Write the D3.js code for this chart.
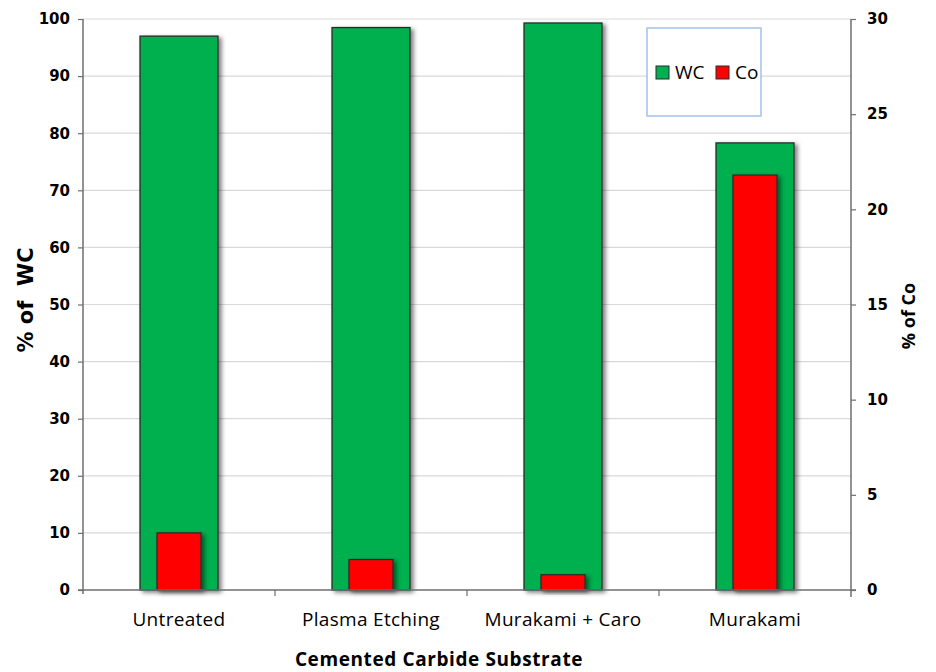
<!DOCTYPE html>
<html>
<head>
<meta charset="utf-8">
<script src="https://cdn.jsdelivr.net/npm/d3@7"></script>
<style>
  html, body { margin: 0; padding: 0; background: #fff; }
  svg { display: block; }
</style>
</head>
<body>
<svg id="chart" width="936" height="672"></svg>
<script>
// Substrate composition: WC on the left axis, Co on the right axis
const categories = ["Untreated", "Plasma Etching", "Murakami + Caro", "Murakami"];
const wcValues = [97.0, 98.5, 99.3, 78.3];
const coValues = [3.0, 1.6, 0.8, 21.8];
const leftTicks = [0, 10, 20, 30, 40, 50, 60, 70, 80, 90, 100];
const rightTicks = [0, 5, 10, 15, 20, 25, 30];

const svg = d3.select("#chart");
const plotLeft = 83, plotRight = 851, plotTop = 19, plotBottom = 590;

const x = d3.scaleBand().domain(categories).range([plotLeft, plotRight]);
const yL = d3.scaleLinear().domain([0, 100]).range([plotBottom, plotTop]);
const yR = d3.scaleLinear().domain([0, 30]).range([plotBottom, plotTop]);

const defs = svg.append("defs");
const f = defs.append("filter").attr("id", "shadow")
  .attr("x", "-20%").attr("y", "-20%").attr("width", "150%").attr("height", "150%");
f.append("feDropShadow").attr("dx", 3).attr("dy", 2).attr("stdDeviation", 2)
  .attr("flood-color", "#000").attr("flood-opacity", 0.5);

// gridlines
svg.append("g").selectAll("line").data(leftTicks.slice(1)).join("line")
  .attr("x1", plotLeft).attr("x2", plotRight)
  .attr("y1", d => yL(d)).attr("y2", d => yL(d))
  .attr("stroke", "#d9d9d9").attr("stroke-width", 1.2);

const tickFont = "'DejaVu Sans', Verdana, sans-serif";

// left axis
const gL = svg.append("g").attr("transform", `translate(${plotLeft},0)`)
  .call(d3.axisLeft(yL).tickValues(leftTicks).tickSize(5).tickPadding(8));
gL.select(".domain").attr("stroke", "#6e6e6e").attr("stroke-width", 1.5).attr("d", `M0,${plotBottom + 4}V${plotTop}`);
gL.selectAll(".tick line").attr("stroke", "#6e6e6e").attr("stroke-width", 1.2);
gL.selectAll(".tick text").attr("font-family", tickFont).attr("font-weight", "bold")
  .attr("font-size", 15).attr("fill", "#000");

// right axis
const gR = svg.append("g").attr("transform", `translate(${plotRight},0)`)
  .call(d3.axisRight(yR).tickValues(rightTicks).tickSize(5).tickPadding(11));
gR.select(".domain").attr("stroke", "#6e6e6e").attr("stroke-width", 1.5).attr("d", `M0,${plotBottom + 7}V${plotTop}`);
gR.selectAll(".tick line").attr("stroke", "#6e6e6e").attr("stroke-width", 1.2);
gR.selectAll(".tick text").attr("font-family", tickFont).attr("font-weight", "bold")
  .attr("font-size", 15).attr("fill", "#000");

// bars
const wcW = 78, coW = 44;
const bars = svg.append("g");
bars.selectAll("rect.wc").data(categories).join("rect").attr("class", "wc")
  .attr("x", d => x(d) + x.bandwidth() / 2 - wcW / 2)
  .attr("width", wcW)
  .attr("y", (d, i) => yL(wcValues[i]))
  .attr("height", (d, i) => yL(0) - yL(wcValues[i]))
  .attr("fill", "#00b050").attr("stroke", "#2b2b2b").attr("stroke-width", 1.3)
  .attr("filter", "url(#shadow)");
bars.selectAll("rect.co").data(categories).join("rect").attr("class", "co")
  .attr("x", d => x(d) + x.bandwidth() / 2 - coW / 2)
  .attr("width", coW)
  .attr("y", (d, i) => yR(coValues[i]))
  .attr("height", (d, i) => yR(0) - yR(coValues[i]))
  .attr("fill", "#ff0000").attr("stroke", "#2b2b2b").attr("stroke-width", 1.3)
  .attr("filter", "url(#shadow)");

// bottom axis
const gB = svg.append("g").attr("transform", `translate(0,${plotBottom})`);
gB.append("line").attr("x1", plotLeft - 5).attr("x2", plotRight + 5).attr("y1", 0).attr("y2", 0)
  .attr("stroke", "#6e6e6e").attr("stroke-width", 1.5);
gB.selectAll("line.sep").data(categories.slice(1)).join("line").attr("class", "sep")
  .attr("x1", d => x(d)).attr("x2", d => x(d)).attr("y1", 0).attr("y2", 6)
  .attr("stroke", "#6e6e6e").attr("stroke-width", 1.2);
gB.selectAll("text").data(categories).join("text")
  .attr("x", d => x(d) + x.bandwidth() / 2).attr("y", 36)
  .attr("text-anchor", "middle")
  .attr("font-family", "'Open Sans', sans-serif").attr("font-size", 19)
  .attr("letter-spacing", 0.3).attr("fill", "#000")
  .text(d => d);

// axis titles
svg.append("text").attr("x", 439).attr("y", 666).attr("text-anchor", "middle")
  .attr("font-family", "'Open Sans', sans-serif").attr("font-weight", "bold").attr("font-size", 19)
  .attr("letter-spacing", 0.6)
  .text("Cemented Carbide Substrate");
svg.append("text").attr("transform", "translate(33,300) rotate(-90)").attr("text-anchor", "middle")
  .attr("font-family", tickFont).attr("font-weight", "bold").attr("font-size", 21)
  .attr("xml:space", "preserve").text("% of  WC");
svg.append("text").attr("transform", "translate(915,316) rotate(-90)").attr("text-anchor", "middle")
  .attr("font-family", "'Open Sans', sans-serif").attr("font-weight", "bold").attr("font-size", 18)
  .text("% of Co");

// legend
const lg = svg.append("g");
lg.append("rect").attr("x", 647).attr("y", 28).attr("width", 114).attr("height", 88)
  .attr("fill", "#fff").attr("stroke", "#8db3e2").attr("stroke-width", 1.2);
const legendItems = [
  { label: "WC", color: "#00b050", x: 656 },
  { label: "Co", color: "#ff0000", x: 716 }
];
legendItems.forEach(it => {
  lg.append("rect").attr("x", it.x).attr("y", 66).attr("width", 13).attr("height", 13)
    .attr("fill", it.color).attr("stroke", "#2b2b2b").attr("stroke-width", 1);
  lg.append("text").attr("x", it.x + 19).attr("y", 79)
    .attr("font-family", "'Open Sans', sans-serif").attr("font-size", 19).attr("fill", "#000")
    .text(it.label);
});
</script>
</body>
</html>
